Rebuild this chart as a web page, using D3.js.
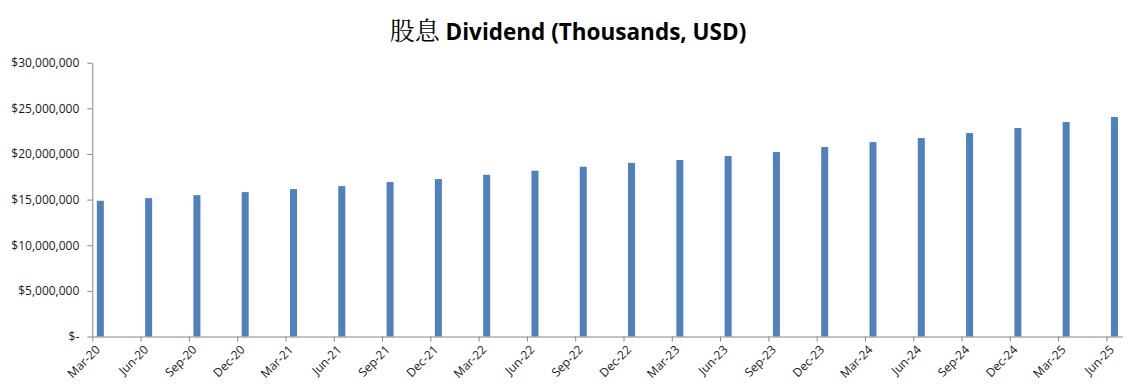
<!DOCTYPE html>
<html>
<head>
<meta charset="utf-8">
<script src="https://cdn.jsdelivr.net/npm/d3@7"></script>
<style>
  html, body { margin: 0; padding: 0; background: #fff; }
  svg { display: block; }
</style>
</head>
<body>
<svg id="chart" width="1133" height="389"></svg>
<script>
const quarters = ["Mar-20","Jun-20","Sep-20","Dec-20","Mar-21","Jun-21","Sep-21","Dec-21","Mar-22","Jun-22","Sep-22","Dec-22","Mar-23","Jun-23","Sep-23","Dec-23","Mar-24","Jun-24","Sep-24","Dec-24","Mar-25","Jun-25"];
const dividends = [14870000,15160000,15490000,15820000,16150000,16480000,16920000,17250000,17720000,18160000,18600000,19020000,19330000,19770000,20210000,20760000,21300000,21740000,22290000,22840000,23500000,24050000];
const yTicks = [0,5000000,10000000,15000000,20000000,25000000,30000000];
const titleCJK = "股息";
const titleLatin = " Dividend (Thousands, USD)";

(function () {
const svg = d3.select("#chart");
const mLeft = 92.3, mRight = 1122.5, mTop = 62.7, mBottom = 336.5;
const months = quarters.length * 3 - 2; // Mar-20 .. Jun-25 monthly slots
const x = d3.scaleLinear().domain([0, months]).range([mLeft, mRight]);
const y = d3.scaleLinear().domain([0, 30000000]).range([mBottom, mTop]);

const axisColor = "#868686";
const textColor = "#1a1a1a";
const font = "'Open Sans', sans-serif";

// title
const title = svg.append("text")
  .attr("x", 568).attr("y", 40)
  .attr("text-anchor", "middle")
  .attr("fill", "#000");
title.append("tspan").text(titleCJK)
  .attr("font-family", "'Noto Serif CJK SC','Noto Sans CJK SC', serif")
  .attr("font-size", 25).attr("font-weight", 400);
title.append("tspan").text(titleLatin)
  .attr("font-family", font).attr("font-size", 22.5).attr("font-weight", 700);

// y axis
const fmt = d => d === 0 ? "$-" : "$" + d3.format(",")(d);
const yAxis = svg.append("g")
  .attr("transform", `translate(${mLeft},0)`)
  .call(d3.axisLeft(y).tickValues(yTicks).tickFormat(fmt).tickSize(5).tickPadding(8).tickSizeOuter(0));
yAxis.select(".domain").attr("stroke", axisColor);
yAxis.selectAll(".tick line").attr("stroke", axisColor);
yAxis.selectAll("text").attr("font-family", font).attr("font-size", 12).attr("fill", textColor);

// bars
const slot = x(1) - x(0);
const barW = 7;
svg.append("g").selectAll("rect")
  .data(dividends)
  .join("rect")
  .attr("x", (d, i) => x(i * 3) + slot / 2 - barW / 2)
  .attr("y", d => y(d))
  .attr("width", barW)
  .attr("height", d => y(0) - y(d))
  .attr("fill", "#4F81BD");

// x axis
const xAxis = svg.append("g")
  .attr("transform", `translate(0,${mBottom})`)
  .call(d3.axisBottom(x).tickValues(quarters.map((q, i) => i * 3))
    .tickFormat((d) => quarters[d / 3]).tickSize(5).tickSizeOuter(0));
xAxis.select(".domain").attr("stroke", axisColor);
xAxis.selectAll(".tick line").attr("stroke", axisColor);
xAxis.selectAll("text")
  .attr("font-family", font).attr("font-size", 12).attr("fill", textColor)
  .attr("text-anchor", "end")
  .attr("dy", null).attr("y", 0)
  .attr("transform", "translate(8,14) rotate(-45)");
})();
</script>
</body>
</html>
